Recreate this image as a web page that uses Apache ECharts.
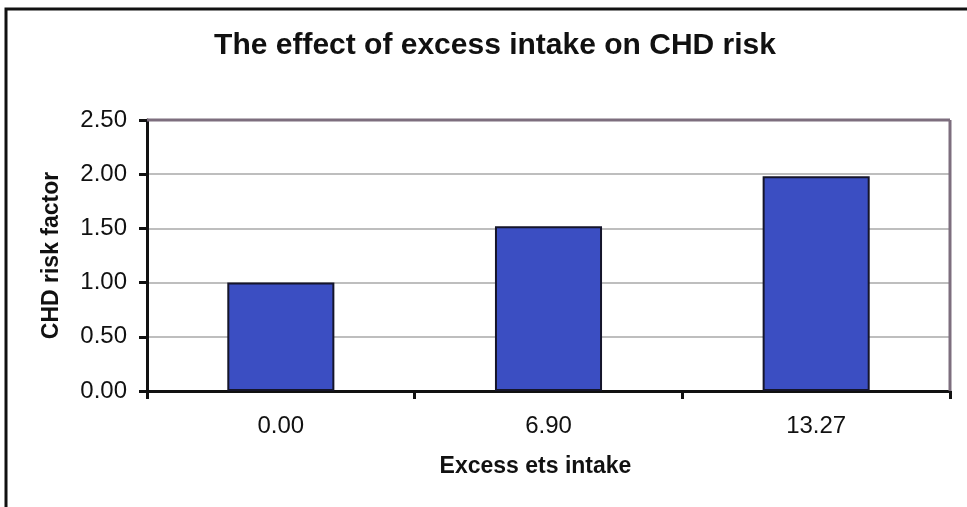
<!DOCTYPE html>
<html>
<head>
<meta charset="utf-8">
<script src="https://cdn.jsdelivr.net/npm/echarts@6/dist/echarts.min.js"></script>
<style>
html,body{margin:0;padding:0;background:#fff;}
#chart{width:967px;height:507px;}
</style>
</head>
<body>
<div id="chart"></div>
<script>
var categories = ['0.00', '6.90', '13.27'];
var riskValues = [1.00, 1.52, 1.98];
var yTicks = { min: 0, max: 2.5, interval: 0.5 };
var titleText = 'The effect of excess intake on CHD risk';
var xName = 'Excess ets intake';
var yName = 'CHD risk factor';

var chart = echarts.init(document.getElementById('chart'));
var font = 'Liberation Sans, Arial, sans-serif';
chart.setOption({
  backgroundColor: '#fff',
  animation: false,
  title: {
    text: titleText,
    left: 490, top: 26, textAlign: 'center',
    textStyle: { fontFamily: font, fontSize: 30, fontWeight: 'bold', color: '#111' }
  },
  graphic: [
    { type: 'rect', shape: { x: 6, y: 9, width: 990, height: 520 }, style: { fill: 'none', stroke: '#111', lineWidth: 3 }, z: 100 },
    { type: 'line', shape: { x1: 147, y1: 120, x2: 950, y2: 120 }, style: { stroke: '#7d6e7e', lineWidth: 3 }, z: 50 },
    { type: 'line', shape: { x1: 950, y1: 120, x2: 950, y2: 391 }, style: { stroke: '#7d6e7e', lineWidth: 3 }, z: 50 }
  ],
  grid: { left: 147, right: 17, top: 120, bottom: 116 },
  xAxis: {
    type: 'category',
    data: categories,
    name: xName,
    nameLocation: 'middle',
    nameGap: 64,
    nameTextStyle: { fontFamily: font, fontSize: 23, fontWeight: 'bold', color: '#111', padding: [0, 26, 0, 0] },
    axisLine: { lineStyle: { color: '#111', width: 3 } },
    axisTick: { show: true, alignWithLabel: false, length: 8, lineStyle: { color: '#111', width: 3 } },
    axisLabel: { fontFamily: font, fontSize: 24, color: '#111', margin: 23 }
  },
  yAxis: {
    type: 'value',
    min: yTicks.min, max: yTicks.max, interval: yTicks.interval,
    name: yName,
    nameLocation: 'middle',
    nameGap: 84,
    nameTextStyle: { fontFamily: font, fontSize: 23, fontWeight: 'bold', color: '#111' },
    axisLine: { show: true, lineStyle: { color: '#111', width: 3 } },
    axisTick: { show: true, length: 8, lineStyle: { color: '#111', width: 3 } },
    axisLabel: { fontFamily: font, fontSize: 24, color: '#111', margin: 20, formatter: function (v) { return v.toFixed(2); } },
    splitLine: { show: true, lineStyle: { color: '#a8a8a8', width: 1.5 } }
  },
  series: [{
    type: 'bar',
    data: riskValues,
    barWidth: '40%',
    itemStyle: { color: '#3b4ec2', borderColor: '#15152a', borderWidth: 2 }
  }]
});
</script>
</body>
</html>
